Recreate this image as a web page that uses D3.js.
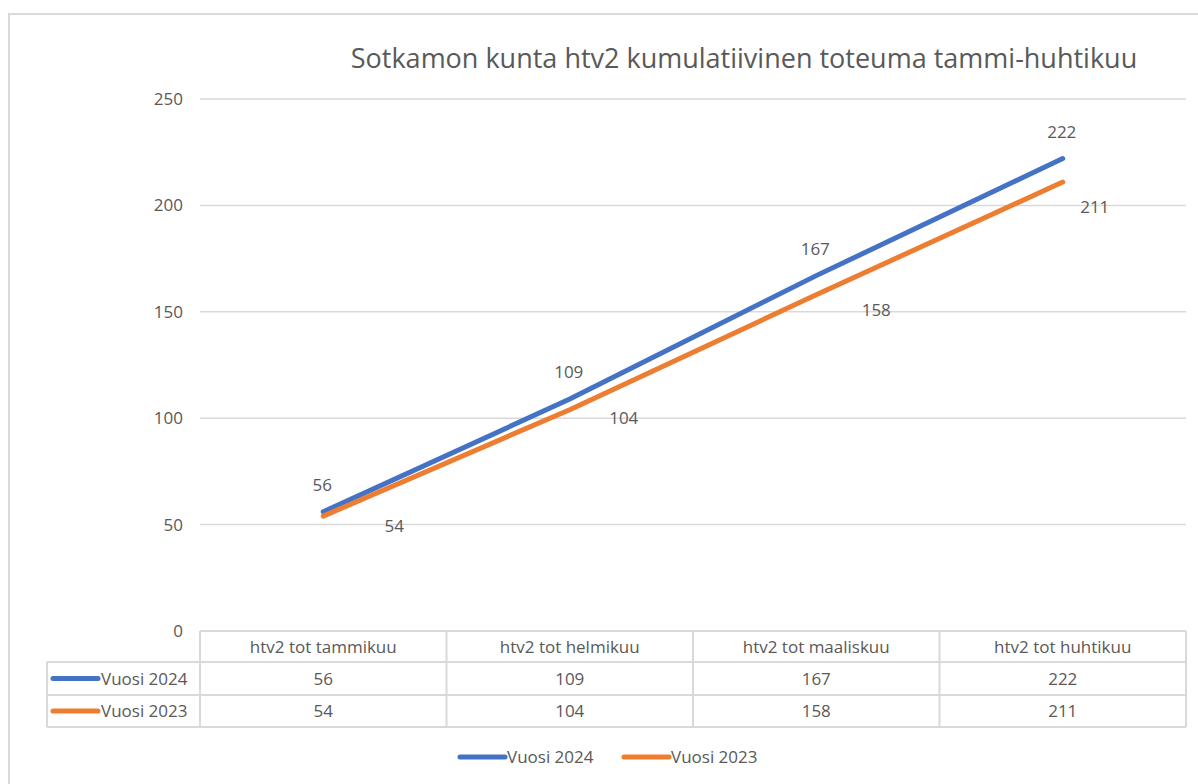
<!DOCTYPE html>
<html>
<head>
<meta charset="utf-8">
<script src="https://cdn.jsdelivr.net/npm/d3@7"></script>
<style>
  body { margin: 0; background: #fff; }
  text { font-family: "Open Sans", "Noto Sans", sans-serif; fill: #595959; }
</style>
</head>
<body>
<div id="chart"></div>
<script>
// data
var title = "Sotkamon kunta htv2 kumulatiivinen toteuma tammi-huhtikuu";
var categories = ["htv2 tot tammikuu", "htv2 tot helmikuu", "htv2 tot maaliskuu", "htv2 tot huhtikuu"];
var seriesNames = ["Vuosi 2024", "Vuosi 2023"];
var values2024 = [56, 109, 167, 222];
var values2023 = [54, 104, 158, 211];
var yTicks = [0, 50, 100, 150, 200, 250];
var colors = ["#4472c4", "#ed7d31"];

// the 2023 labels sit below-right, each one nudged a little differently
var offsets2023 = [[71, 16], [54, 14], [60, 21], [32, 31]];

var W = 1198, H = 784;
var margin = {top: 99, left: 200, right: 12, bottom: 153};
var fs = "17px";

var svg = d3.select("#chart")
  .append("svg")
  .attr("width", W)
  .attr("height", H);

// outer chart border
svg.append("rect")
  .attr("x", 9).attr("y", 14)
  .attr("width", W).attr("height", H)
  .attr("fill", "none")
  .attr("stroke", "#d9d9d9")
  .attr("stroke-width", 2);

svg.append("text")
  .attr("x", 744).attr("y", 68)
  .attr("text-anchor", "middle")
  .style("font-size", "27px")
  .text(title);

var x = d3.scaleBand()
  .domain(categories)
  .range([margin.left, 1186]);

var y = d3.scaleLinear()
  .domain([0, 250])
  .range([631, margin.top]);

// gridlines
svg.append("g")
  .selectAll("line")
  .data(yTicks.filter(d => d > 0))
  .join("line")
  .attr("x1", margin.left).attr("x2", 1186)
  .attr("y1", d => y(d)).attr("y2", d => y(d))
  .attr("stroke", "#d9d9d9")
  .attr("stroke-width", 1.5);

// y axis labels
var yAxis = svg.append("g")
  .attr("transform", "translate(" + margin.left + ",0)")
  .call(d3.axisLeft(y).tickValues(yTicks).tickSize(0).tickPadding(17));
yAxis.select(".domain").remove();
yAxis.selectAll("text")
  .style("font-size", fs)
  .style("font-family", '"Open Sans", sans-serif')
  .attr("fill", "#595959");

// lines
var series = [values2024, values2023];
var line = d3.line()
  .x((d, i) => x(categories[i]) + x.bandwidth() / 2)
  .y(d => y(d));

svg.append("g")
  .selectAll("path")
  .data(series)
  .join("path")
  .attr("d", d => line(d))
  .attr("fill", "none")
  .attr("stroke", (d, i) => colors[i])
  .attr("stroke-width", 5)
  .attr("stroke-linecap", "round")
  .attr("stroke-linejoin", "round");

// data labels
svg.append("g")
  .selectAll("text")
  .data(values2024)
  .join("text")
  .attr("x", (d, i) => x(categories[i]) + x.bandwidth() / 2 - 1)
  .attr("y", d => y(d) - 21)
  .attr("text-anchor", "middle")
  .style("font-size", fs)
  .text(d => d);

svg.append("g")
  .selectAll("text")
  .data(values2023)
  .join("text")
  .attr("x", (d, i) => x(categories[i]) + x.bandwidth() / 2 + offsets2023[i][0])
  .attr("y", (d, i) => y(d) + offsets2023[i][1])
  .attr("text-anchor", "middle")
  .style("font-size", fs)
  .text(d => d);

// data table under the plot
var rowTop = [631, 662, 695, 727];
var tableLeft = 47;
var border = "#d9d9d9";
var tbl = svg.append("g");

// horizontal rules
tbl.append("line")
  .attr("x1", margin.left).attr("x2", x.range()[1])
  .attr("y1", rowTop[0]).attr("y2", rowTop[0])
  .attr("stroke", border).attr("stroke-width", 2);
rowTop.slice(1).forEach(function(yy) {
  tbl.append("line")
    .attr("x1", tableLeft).attr("x2", x.range()[1])
    .attr("y1", yy).attr("y2", yy)
    .attr("stroke", border).attr("stroke-width", 2);
});
// vertical rules
tbl.append("line")
  .attr("x1", tableLeft).attr("x2", tableLeft)
  .attr("y1", rowTop[1]).attr("y2", rowTop[3])
  .attr("stroke", border).attr("stroke-width", 2);
categories.concat(["end"]).forEach(function(c, i) {
  var xx = i < categories.length ? x(c) : x.range()[1];
  tbl.append("line")
    .attr("x1", xx).attr("x2", xx)
    .attr("y1", rowTop[0]).attr("y2", rowTop[3])
    .attr("stroke", border).attr("stroke-width", 2);
});

// header text
tbl.selectAll(".hdr")
  .data(categories)
  .join("text")
  .attr("class", "hdr")
  .attr("x", d => x(d) + x.bandwidth() / 2)
  .attr("y", (rowTop[0] + rowTop[1]) / 2 + 6)
  .attr("text-anchor", "middle")
  .style("font-size", fs)
  .text(d => d);

series.forEach(function(vals, s) {
  var cy = (rowTop[s + 1] + rowTop[s + 2]) / 2;
  tbl.append("line")
    .attr("x1", 53).attr("x2", 98)
    .attr("y1", cy).attr("y2", cy)
    .attr("stroke", colors[s])
    .attr("stroke-width", 5)
    .attr("stroke-linecap", "round");
  tbl.append("text")
    .attr("x", 101).attr("y", cy + 6)
    .style("font-size", fs)
    .text(seriesNames[s]);
  tbl.selectAll(".v" + s)
    .data(vals)
    .join("text")
    .attr("class", "v" + s)
    .attr("x", (d, i) => x(categories[i]) + x.bandwidth() / 2)
    .attr("y", cy + 6)
    .attr("text-anchor", "middle")
    .style("font-size", fs)
    .text(d => d);
});

// legend at the bottom
var legendX = [460, 624];
var leg = svg.append("g");
seriesNames.forEach(function(name, s) {
  leg.append("line")
    .attr("x1", legendX[s]).attr("x2", legendX[s] + 45)
    .attr("y1", 757).attr("y2", 757)
    .attr("stroke", colors[s])
    .attr("stroke-width", 5)
    .attr("stroke-linecap", "round");
  leg.append("text")
    .attr("x", legendX[s] + 47).attr("y", 763)
    .style("font-size", fs)
    .text(name);
});
</script>
</body>
</html>
